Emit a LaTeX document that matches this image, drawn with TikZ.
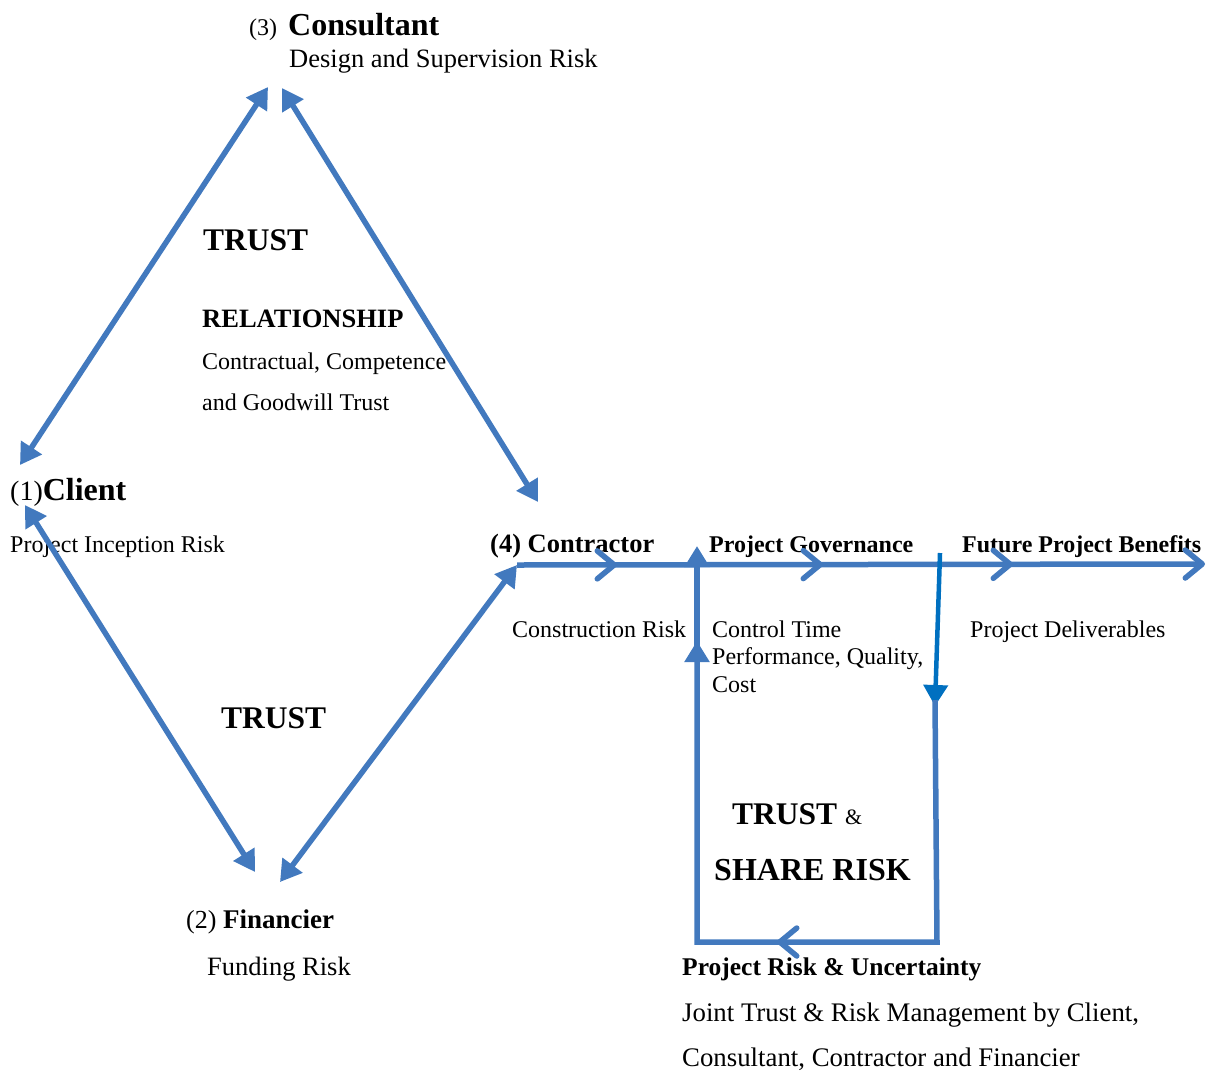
\documentclass[tikz,border=0pt]{standalone}
\usepackage{fontspec}
\setmainfont{Liberation Serif}
\usetikzlibrary{arrows.meta, decorations.markings}

\definecolor{linkblue}{RGB}{66,121,190}
\definecolor{dropblue}{RGB}{0,112,192}
\newcommand\fsz[1]{\fontsize{#1}{#1}\selectfont}

\tikzset{
    link/.style={draw=linkblue, line width=5.5pt},
    tip/.style={-{Triangle[length=21pt,width=24pt]}},
    twoway/.style={{Triangle[length=21pt,width=24pt]}-{Triangle[length=21pt,width=24pt]}},
    barb/.style={-{Straight Barb[length=17pt,width=28pt,line cap=round,round]}},
    lbl/.style={anchor=base west, inner sep=0pt, font=\fsz{24}},
}

\begin{document}
\begin{tikzpicture}[x=1pt, y=-1pt]
    \useasboundingbox (0,0) rectangle (1206,1071);

    % the four parties
    \node[lbl] (consultant) at (249,35) {\fsz{24}(3)\hspace{11pt}\fsz{32}\bfseries Consultant};
    \node[lbl, font=\fsz{26.5}] (consultant-risk) at (289,67) {Design and Supervision Risk};
    \node[lbl] (client) at (10,500) {\fsz{28}(1)\fsz{32}\bfseries Client};
    \node[lbl] (client-risk) at (10,552) {Project Inception Risk};
    \node[lbl] (financier) at (186,928) {\fsz{26}(2) \fsz{27}\bfseries Financier};
    \node[lbl, font=\fsz{26.5}] (financier-risk) at (207,975) {Funding Risk};
    \node[lbl, font=\fsz{26.5}\bfseries] (contractor) at (490,552) {(4) Contractor};
    \node[lbl] (contractor-risk) at (512,637) {Construction Risk};

    % project stages
    \node[lbl, font=\fsz{24}\bfseries] (governance) at (709,552) {Project Governance};
    \node[lbl] (control1) at (712,637) {Control Time};
    \node[lbl] (control2) at (712,664) {Performance, Quality,};
    \node[lbl] (control3) at (712,692) {Cost};
    \node[lbl, font=\fsz{24}\bfseries] (benefits) at (962,552) {Future Project Benefits};
    \node[lbl] (deliverables) at (970,637) {Project Deliverables};
    \node[lbl, font=\fsz{25.5}\bfseries] (uncertainty) at (682,975) {Project Risk \& Uncertainty};
    \node[lbl, font=\fsz{26.8}] (joint1) at (682,1021) {Joint Trust \& Risk Management by Client,};
    \node[lbl, font=\fsz{26.8}] (joint2) at (682,1066) {Consultant, Contractor and Financier};

    % trust labels
    \node[lbl, font=\fsz{31.5}\bfseries] (trust-top) at (203,250) {TRUST};
    \node[lbl, font=\fsz{26.5}\bfseries] (relationship) at (202,327) {RELATIONSHIP};
    \node[lbl] (kinds1) at (202,369) {Contractual, Competence};
    \node[lbl] (kinds2) at (202,410) {and Goodwill Trust};
    \node[lbl, font=\fsz{31.5}\bfseries] (trust-low) at (221,728) {TRUST};
    \node[lbl] (trust-share) at (732,824) {\fsz{31.5}\bfseries TRUST \fsz{22}\mdseries\&};
    \node[lbl, font=\fsz{32}\bfseries] (share-risk) at (714,880) {SHARE RISK};

    % arrow ends
    \coordinate (client-up) at (20,465);
    \coordinate (client-down) at (25,505);
    \coordinate (consultant-l) at (268,87);
    \coordinate (consultant-r) at (282,88);
    \coordinate (contractor-top) at (538,502);
    \coordinate (contractor-in) at (517,565);
    \coordinate (financier-l) at (255,872);
    \coordinate (financier-r) at (280,882);
    \coordinate (line-end) at (1205,564);
    \coordinate (gov-in) at (697,546);
    \coordinate (gov-low) at (697,658);
    \coordinate (gov-up) at (697,641);
    \coordinate (drop-top) at (940,553);
    \coordinate (drop-end) at (935,706);
    \coordinate (loop-tr) at (935,700);
    \coordinate (loop-br) at (937,942);
    \coordinate (loop-bl) at (697,942);

    % trust relations
    \draw[link, twoway] (client-up) -- (consultant-l);
    \draw[link, twoway] (consultant-r) -- (contractor-top);
    \draw[link, twoway] (client-down) -- (financier-l);
    \draw[link, twoway] (financier-r) -- (contractor-in);

    % delivery line
    \draw[link, barb, postaction={decorate}, decoration={markings,
        mark=at position 100pt with {\arrow[line cap=round]{Straight Barb[length=17pt,width=28pt,round]}},
        mark=at position 306pt with {\arrow[line cap=round]{Straight Barb[length=17pt,width=28pt,round]}},
        mark=at position 496pt with {\arrow[line cap=round]{Straight Barb[length=17pt,width=28pt,round]}}}]
        (contractor-in) -- (line-end);
    \draw[link, tip] (gov-low) -- (gov-in);

    % risk loop
    \draw[link, draw=dropblue, line width=4.5pt, tip] (drop-top) -- (drop-end);
    \draw[link, tip, postaction={decorate}, decoration={markings,
        mark=at position 402pt with {\arrow[line cap=round]{Straight Barb[length=17pt,width=28pt,round]}}}]
        (loop-tr) -- (loop-br) -- (loop-bl) -- (gov-up);
\end{tikzpicture}
\end{document}
